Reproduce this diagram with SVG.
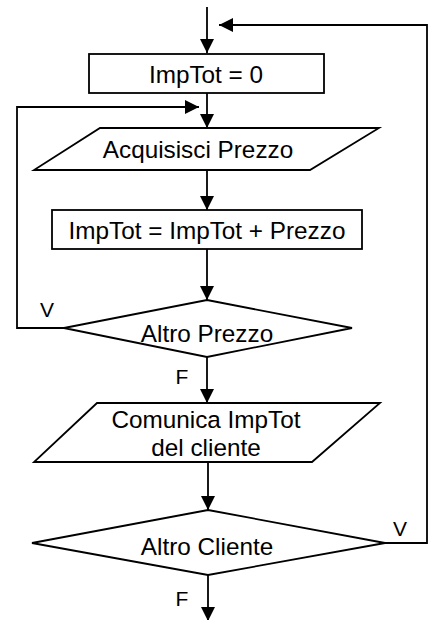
<svg xmlns="http://www.w3.org/2000/svg" width="433" height="620" viewBox="0 0 433 620">
<style>
.s{fill:#fff;stroke:#000;stroke-width:1.8}
.c{fill:none;stroke:#000;stroke-width:1.8}
text{font-family:"Liberation Sans",Arial,sans-serif;font-size:24.3px;fill:#000;text-anchor:middle}
.l{font-size:21px}
</style>
<defs>
<marker id="a" viewBox="0 0 14 14" refX="14" refY="7" markerWidth="14" markerHeight="14" markerUnits="userSpaceOnUse" orient="auto">
<path d="M0,0 L14,7 L0,14 Z" fill="#000"/>
</marker>
</defs>
<g id="connectors">
<line class="c" x1="207" y1="7" x2="207" y2="53" marker-end="url(#a)"/>
<polyline class="c" points="385,543 427,543 427,25 219,25" marker-end="url(#a)"/>
<line class="c" x1="207" y1="93" x2="207" y2="128" marker-end="url(#a)"/>
<polyline class="c" points="64,328 17,328 17,107 199,107" marker-end="url(#a)"/>
<line class="c" x1="207" y1="170" x2="207" y2="210" marker-end="url(#a)"/>
<line class="c" x1="207" y1="249" x2="207" y2="300" marker-end="url(#a)"/>
<line class="c" x1="207" y1="357" x2="207" y2="403" marker-end="url(#a)"/>
<line class="c" x1="208" y1="462" x2="208" y2="510" marker-end="url(#a)"/>
<line class="c" x1="208" y1="575" x2="208" y2="621" marker-end="url(#a)"/>
<text class="l" x="47" y="317">V</text>
<text class="l" x="182" y="384">F</text>
<text class="l" x="400" y="536">V</text>
<text class="l" x="182" y="606">F</text>
</g>
<g id="init">
<rect class="s" x="89" y="54" width="235" height="39"/>
<text x="206" y="83">ImpTot = 0</text>
</g>
<g id="acquisisci">
<polygon class="s" points="100,128 379,128 310,170 34,170"/>
<text x="198" y="158">Acquisisci Prezzo</text>
</g>
<g id="somma">
<rect class="s" x="52" y="210" width="310" height="39"/>
<text x="207" y="239">ImpTot = ImpTot + Prezzo</text>
</g>
<g id="altroPrezzo">
<polygon class="s" points="207,300 352,328 207,357 64,328"/>
<text x="207" y="342">Altro Prezzo</text>
</g>
<g id="comunica">
<polygon class="s" points="97,403 380,403 312,462 34,462"/>
<text x="206" y="428">Comunica ImpTot</text>
<text x="206" y="456">del cliente</text>
</g>
<g id="altroCliente">
<polygon class="s" points="208,510 385,543 208,575 32,543"/>
<text x="207" y="555">Altro Cliente</text>
</g>
</svg>
